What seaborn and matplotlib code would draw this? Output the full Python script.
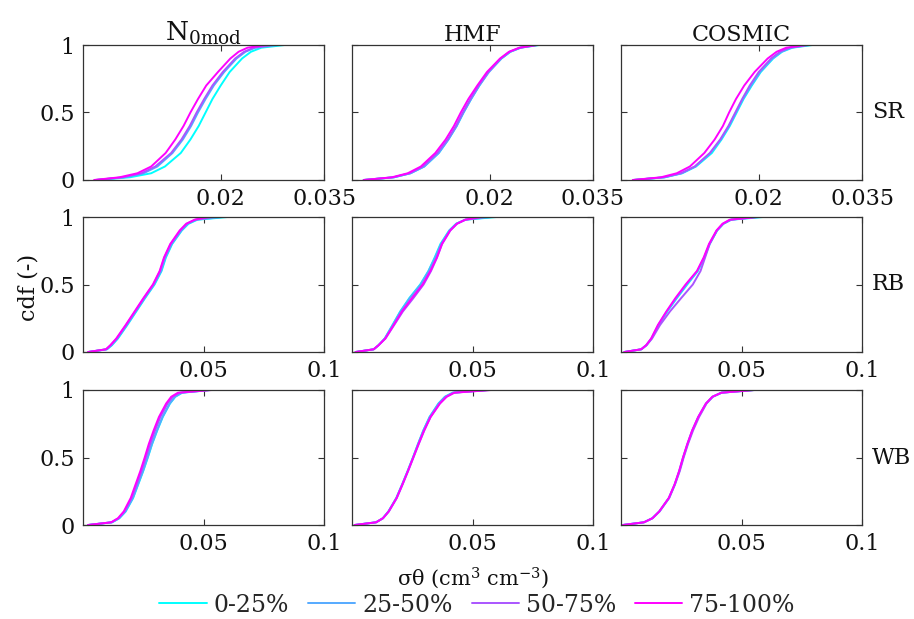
import matplotlib
matplotlib.use("Agg")
import matplotlib.pyplot as plt
from matplotlib.lines import Line2D
import pandas as pd
import seaborn as sns

# ---------------- data (quantiles, in units of 1e-3) ----
SCALE = 1e-3
CDF_LEVELS = [0, 0.02, 0.05, 0.1, 0.2, 0.3, 0.4, 0.5, 0.6, 0.7, 0.8, 0.9, 0.95, 0.98, 1.0]
CLASSES = ["0-25%", "25-50%", "50-75%", "75-100%"]
METHODS = ["N0mod", "HMF", "COSMIC"]
SITES = ["SR", "RB", "WB"]

# SR
n0_sr_q1 = [2.0, 6.8, 9.9, 11.9, 14.2, 15.6, 16.8, 17.8, 18.8, 20.0, 21.3, 23.1, 24.4, 25.9, 29.3]
n0_sr_q2 = [1.8, 6.0, 8.8, 10.8, 13.0, 14.5, 15.7, 16.7, 17.8, 19.0, 20.5, 22.3, 23.6, 25.0, 28.4]
n0_sr_q3 = [1.8, 5.8, 8.5, 10.5, 12.8, 14.3, 15.5, 16.5, 17.6, 18.8, 20.3, 22.1, 23.4, 24.8, 27.6]
n0_sr_q4 = [1.6, 5.3, 7.9, 9.9, 12.0, 13.4, 14.6, 15.6, 16.7, 17.9, 19.6, 21.4, 22.6, 23.9, 26.4]

hmf_sr_q1 = [1.7, 6.1, 8.5, 10.5, 12.6, 14.0, 15.2, 16.2, 17.3, 18.5, 19.8, 21.7, 23.0, 24.5, 27.2]
hmf_sr_q2 = [1.7, 6.1, 8.5, 10.5, 12.6, 14.0, 15.2, 16.2, 17.3, 18.5, 19.9, 21.7, 23.0, 24.5, 27.0]
hmf_sr_q3 = [1.7, 6.0, 8.4, 10.3, 12.4, 13.9, 15.1, 16.1, 17.2, 18.4, 19.8, 21.6, 22.9, 24.4, 26.8]
hmf_sr_q4 = [1.7, 5.8, 8.1, 10.0, 12.1, 13.6, 14.8, 15.8, 16.9, 18.2, 19.6, 21.5, 22.8, 24.3, 26.8]

cos_sr_q1 = [1.8, 6.4, 8.9, 10.9, 13.2, 14.6, 15.8, 16.8, 17.8, 19.0, 20.3, 22.1, 23.4, 24.9, 27.8]
cos_sr_q2 = [1.8, 6.3, 8.8, 10.8, 13.0, 14.5, 15.7, 16.7, 17.7, 18.9, 20.2, 22.0, 23.3, 24.7, 27.4]
cos_sr_q3 = [1.8, 6.2, 8.7, 10.7, 12.9, 14.4, 15.6, 16.6, 17.6, 18.7, 20.0, 21.8, 23.1, 24.5, 27.1]
cos_sr_q4 = [1.7, 5.8, 8.1, 10.0, 12.1, 13.6, 14.8, 15.7, 16.7, 17.9, 19.4, 21.3, 22.6, 24.0, 26.8]

# RB
n0_rb_q1 = [2.3, 10.0, 12.0, 14.5, 18.4, 22.1, 25.8, 29.7, 32.6, 34.4, 37.0, 41.0, 43.8, 47.5, 60.0]
n0_rb_q2 = [2.2, 9.8, 11.8, 14.3, 18.2, 21.9, 25.6, 29.5, 32.4, 34.2, 36.8, 40.8, 43.5, 47.0, 58.0]
n0_rb_q3 = [2.2, 9.6, 11.5, 14.0, 17.9, 21.6, 25.3, 29.2, 32.0, 33.8, 36.4, 40.4, 43.1, 46.6, 54.0]
n0_rb_q4 = [2.1, 9.5, 11.3, 13.8, 17.7, 21.4, 25.1, 29.0, 31.8, 33.6, 36.2, 40.1, 42.8, 46.3, 51.8]

hmf_rb_q1 = [1.5, 9.0, 11.0, 13.6, 16.8, 20.0, 23.8, 28.3, 31.7, 34.3, 36.7, 40.3, 43.2, 47.0, 60.0]
hmf_rb_q2 = [1.5, 9.0, 11.0, 13.6, 16.9, 20.1, 24.0, 28.5, 31.8, 34.5, 36.9, 40.5, 43.3, 47.0, 58.0]
hmf_rb_q3 = [1.5, 9.0, 11.0, 13.9, 17.5, 21.1, 25.5, 29.7, 32.8, 35.3, 37.4, 40.8, 43.6, 47.1, 55.0]
hmf_rb_q4 = [1.5, 9.0, 11.0, 13.8, 17.3, 20.7, 24.9, 29.3, 32.5, 35.2, 37.3, 40.7, 43.5, 47.0, 53.2]

cos_rb_q1 = [1.4, 8.4, 10.5, 12.7, 15.6, 19.2, 23.2, 27.5, 31.9, 34.6, 36.8, 39.9, 42.5, 45.8, 59.0]
cos_rb_q2 = [1.4, 8.4, 10.5, 12.6, 15.5, 19.0, 23.0, 27.2, 31.7, 34.5, 36.7, 39.8, 42.4, 45.6, 57.5]
cos_rb_q3 = [1.4, 8.5, 10.6, 12.9, 16.2, 20.3, 25.0, 29.8, 33.0, 34.9, 36.8, 39.8, 42.4, 45.6, 56.0]
cos_rb_q4 = [1.4, 8.3, 10.4, 12.5, 15.3, 18.8, 22.6, 26.8, 31.5, 34.3, 36.5, 39.6, 42.1, 45.1, 56.3]

# WB
n0_wb_q1 = [2.2, 12.1, 15.1, 17.7, 20.8, 22.9, 25.0, 26.9, 28.7, 30.8, 33.1, 36.1, 38.3, 41.2, 52.5]
n0_wb_q2 = [2.1, 12.0, 15.0, 17.6, 20.7, 22.8, 24.9, 26.8, 28.6, 30.7, 33.0, 36.0, 38.2, 41.0, 53.0]
n0_wb_q3 = [2.1, 11.8, 14.7, 17.2, 20.2, 22.3, 24.3, 26.1, 27.9, 29.9, 32.1, 35.1, 37.3, 40.2, 52.0]
n0_wb_q4 = [2.1, 11.7, 14.5, 16.9, 19.8, 21.8, 23.8, 25.6, 27.3, 29.3, 31.5, 34.5, 36.6, 39.4, 53.5]

hmf_wb_q1 = [1.1, 10.0, 12.8, 15.1, 18.4, 20.8, 23.1, 25.3, 27.4, 29.6, 32.2, 35.9, 38.6, 41.8, 56.5]
hmf_wb_q2 = [1.1, 10.0, 12.8, 15.1, 18.4, 20.8, 23.1, 25.3, 27.4, 29.6, 32.2, 35.9, 38.6, 41.8, 56.0]
hmf_wb_q3 = [1.1, 10.0, 12.9, 15.3, 18.6, 21.0, 23.3, 25.5, 27.7, 30.0, 32.6, 36.4, 39.1, 42.3, 57.0]
hmf_wb_q4 = [1.1, 10.0, 12.8, 15.2, 18.5, 20.9, 23.2, 25.4, 27.6, 29.9, 32.6, 36.5, 39.3, 42.5, 57.8]

cos_wb_q1 = [0.7, 9.5, 13.0, 15.9, 19.9, 22.3, 24.2, 25.8, 27.6, 29.6, 32.1, 35.3, 38.0, 41.7, 55.3]
cos_wb_q2 = [0.8, 9.5, 13.0, 15.9, 19.9, 22.3, 24.2, 25.8, 27.6, 29.6, 32.1, 35.3, 38.0, 41.7, 55.0]
cos_wb_q3 = [0.8, 9.6, 13.1, 16.0, 20.0, 22.4, 24.4, 26.0, 27.8, 29.9, 32.4, 35.5, 38.1, 41.8, 55.5]
cos_wb_q4 = [0.8, 9.5, 13.0, 15.8, 19.8, 22.2, 24.1, 25.7, 27.5, 29.5, 32.0, 35.2, 37.9, 41.6, 55.1]

X_TICKS_SR = [0.02, 0.035]
X_TICKLABELS_SR = ["0.02", "0.035"]
X_TICKS_OTHER = [0.05, 0.1]
X_TICKLABELS_OTHER = ["0.05", "0.1"]
Y_TICKS = [0, 0.5, 1]
Y_TICKLABELS = ["0", "0.5", "1"]

# ---------------- build long table ----------------
panels = {
    ("N0mod", "SR"): [n0_sr_q1, n0_sr_q2, n0_sr_q3, n0_sr_q4],
    ("HMF", "SR"): [hmf_sr_q1, hmf_sr_q2, hmf_sr_q3, hmf_sr_q4],
    ("COSMIC", "SR"): [cos_sr_q1, cos_sr_q2, cos_sr_q3, cos_sr_q4],
    ("N0mod", "RB"): [n0_rb_q1, n0_rb_q2, n0_rb_q3, n0_rb_q4],
    ("HMF", "RB"): [hmf_rb_q1, hmf_rb_q2, hmf_rb_q3, hmf_rb_q4],
    ("COSMIC", "RB"): [cos_rb_q1, cos_rb_q2, cos_rb_q3, cos_rb_q4],
    ("N0mod", "WB"): [n0_wb_q1, n0_wb_q2, n0_wb_q3, n0_wb_q4],
    ("HMF", "WB"): [hmf_wb_q1, hmf_wb_q2, hmf_wb_q3, hmf_wb_q4],
    ("COSMIC", "WB"): [cos_wb_q1, cos_wb_q2, cos_wb_q3, cos_wb_q4],
}
rows = []
for (m, s), curves in panels.items():
    for cls, q in zip(CLASSES, curves):
        for p, v in zip(CDF_LEVELS, q):
            rows.append(dict(method=m, site=s, cls=cls, cdf=p, sigma=v * SCALE))
df = pd.DataFrame(rows)

# ---------------- style ----------------
sns.set_theme(style="white")
plt.rcParams["font.family"] = ["DejaVu Serif"]
plt.rcParams["mathtext.fontset"] = "dejavuserif"
EDGE = "#333333"
COLORS = {"0-25%": "#00FFFF", "25-50%": "#55AAFF", "50-75%": "#AA55FF", "75-100%": "#FF00FF"}

fig = plt.figure(figsize=(9.14, 6.19), dpi=100)
W, H = 914, 619
col_left = [83, 352, 621]
row_top = [45, 217, 390]
aw, ah = 241, 135

titles = [r"$\mathrm{N_{0mod}}$", "HMF", "COSMIC"]
title_sizes = [19, 16, 16]

for r, site in enumerate(SITES):
    for c, meth in enumerate(METHODS):
        ax = fig.add_axes([col_left[c] / W, (H - row_top[r] - ah) / H, aw / W, ah / H])
        sub = df[(df.method == meth) & (df.site == site)]
        sns.lineplot(data=sub, x="sigma", y="cdf", hue="cls", hue_order=CLASSES,
                     palette=COLORS, estimator=None, sort=False, linewidth=1.4,
                     legend=False, ax=ax)
        if site == "SR":
            ax.set_xlim(0, 0.035)
            ax.set_xticks(X_TICKS_SR)
            ax.set_xticklabels(X_TICKLABELS_SR)
        else:
            ax.set_xlim(0, 0.1)
            ax.set_xticks(X_TICKS_OTHER)
            ax.set_xticklabels(X_TICKLABELS_OTHER)
        ax.set_ylim(0, 1)
        ax.set_yticks(Y_TICKS)
        if c == 0:
            ax.set_yticklabels(Y_TICKLABELS)
        else:
            ax.set_yticklabels([])
        ax.set_xlabel("")
        ax.set_ylabel("")
        ax.tick_params(direction="in", length=4, width=0.8, color=EDGE,
                       top=True, right=True, bottom=True, left=True,
                       labelsize=16, labelcolor="#111111", pad=6)
        for sp in ax.spines.values():
            sp.set_color(EDGE)
            sp.set_linewidth(0.9)
        if r == 0:
            ax.set_title(titles[c], fontsize=title_sizes[c], pad=3, color="#111111")
        if c == 2:
            ax.text(1.04, 0.5, site, transform=ax.transAxes, ha="left", va="center",
                    fontsize=16, color="#111111")

fig.text(28 / W, (H - 287) / H, "cdf (-)", rotation=90, ha="center", va="center",
         fontsize=16, color="#111111")
fig.text(473 / W, (H - 578) / H, r"σθ (cm$^{3}$ cm$^{-3}$)", ha="center", va="center",
         fontsize=15, color="#111111")

handles = [Line2D([0], [0], color=COLORS[k], lw=1.4) for k in CLASSES]
fig.legend(handles, CLASSES, loc="center", bbox_to_anchor=(0.522, (H - 605) / H),
           ncol=4, frameon=False, fontsize=17, handlelength=2.0, handletextpad=0.3,
           columnspacing=0.8, borderpad=0)

fig.savefig("out.png", dpi=100)
